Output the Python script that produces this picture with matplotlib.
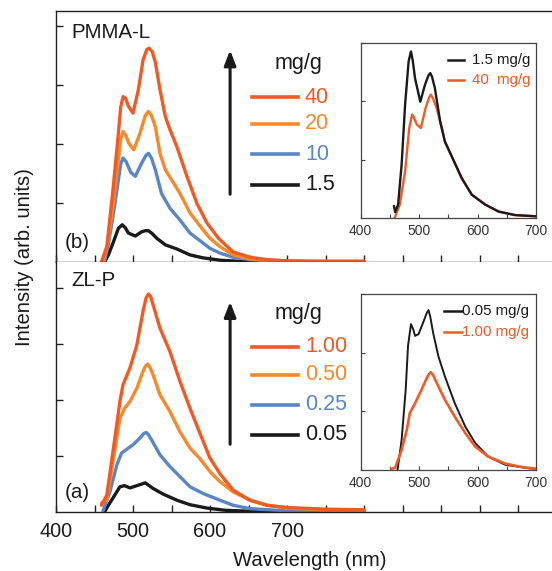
import numpy as np
from matplotlib import pyplot as plt
from matplotlib.lines import Line2D

plt.rcParams['font.family'] = ['Liberation Sans', 'DejaVu Sans']

# 颜色
c_red = '#F05A24'; c_org = '#F7892C'; c_blu = '#5B86C6'; c_blk = '#1A1A1A'

# (b) PMMA-L 主图数据
b40_wl = [459, 466, 474, 481, 484, 487, 490, 494, 500, 507, 513, 518, 521, 525, 529, 535, 542, 548, 557, 570, 583, 596, 611, 630, 652, 674, 700, 750, 800]
b40 = [0, 0.26, 1.22, 2.18, 2.62, 2.80, 2.78, 2.64, 2.52, 2.92, 3.42, 3.60, 3.62, 3.56, 3.38, 2.92, 2.46, 2.24, 1.95, 1.45, 0.99, 0.66, 0.40, 0.17, 0.08, 0.04, 0.02, 0.01, 0.01]
b20_wl = [461, 467, 474, 481, 484, 487, 490, 495, 501, 509, 516, 520, 524, 529, 535, 542, 553, 561, 574, 587, 600, 613, 630, 652, 680, 720, 800]
b20 = [0, 0.30, 0.94, 1.73, 2.08, 2.21, 2.16, 2.00, 1.90, 2.18, 2.48, 2.55, 2.48, 2.29, 1.84, 1.56, 1.33, 1.16, 0.83, 0.61, 0.40, 0.26, 0.12, 0.05, 0.02, 0.01, 0.01]
b10_wl = [463, 468, 474, 481, 484, 487, 491, 497, 503, 511, 517, 520, 524, 529, 537, 548, 561, 574, 587, 600, 613, 630, 652, 680, 720, 800]
b10 = [0.02, 0.30, 0.77, 1.39, 1.66, 1.76, 1.70, 1.52, 1.45, 1.67, 1.81, 1.84, 1.76, 1.56, 1.16, 0.91, 0.71, 0.49, 0.36, 0.23, 0.15, 0.08, 0.04, 0.02, 0.01, 0.01]
b15_wl = [463, 468, 474, 481, 486, 490, 494, 503, 511, 516, 520, 525, 531, 542, 557, 574, 591, 613, 640, 680, 800]
b15 = [0, 0.12, 0.32, 0.57, 0.63, 0.58, 0.49, 0.44, 0.51, 0.53, 0.53, 0.48, 0.40, 0.29, 0.22, 0.12, 0.07, 0.03, 0.01, 0.0, 0.0]

# (a) ZL-P 主图数据
a100_wl = [459, 466, 474, 483, 487, 496, 505, 513, 517, 520, 523, 526, 535, 548, 561, 574, 587, 600, 613, 630, 652, 674, 700, 750, 800]
a100 = [0.12, 0.30, 1.08, 1.97, 2.27, 2.57, 2.98, 3.58, 3.82, 3.89, 3.84, 3.70, 3.28, 2.86, 2.33, 1.85, 1.40, 0.96, 0.68, 0.39, 0.21, 0.12, 0.08, 0.05, 0.04]
a050_wl = [459, 466, 474, 483, 489, 496, 505, 513, 516, 519, 522, 526, 535, 548, 561, 574, 587, 600, 613, 630, 652, 674, 700, 750, 800]
a050 = [0.16, 0.22, 0.90, 1.67, 1.85, 1.97, 2.21, 2.51, 2.60, 2.64, 2.58, 2.45, 2.09, 1.79, 1.43, 1.14, 0.95, 0.72, 0.54, 0.36, 0.21, 0.12, 0.07, 0.04, 0.03]
a025_wl = [461, 470, 479, 485, 494, 500, 509, 514, 517, 520, 524, 535, 548, 561, 574, 591, 613, 630, 652, 700, 800]
a025 = [0.02, 0.36, 0.84, 1.05, 1.14, 1.20, 1.32, 1.40, 1.42, 1.38, 1.29, 1.02, 0.81, 0.63, 0.45, 0.33, 0.21, 0.12, 0.06, 0.02, 0.01]
a005_wl = [463, 468, 474, 483, 489, 496, 505, 516, 526, 539, 557, 574, 596, 620, 660, 800]
a005 = [0, 0.12, 0.25, 0.45, 0.47, 0.43, 0.47, 0.52, 0.42, 0.32, 0.21, 0.13, 0.07, 0.03, 0.01, 0.0]

# 插图数据(归一化)
ib15_wl = [457, 459, 464, 470, 476, 482, 486, 489, 493, 502, 510, 516, 519, 522, 527, 536, 544, 556, 573, 590, 613, 636, 664, 698]
ib15 = [0.20, 0.10, 0.23, 0.91, 1.94, 2.68, 2.85, 2.70, 2.39, 1.99, 2.28, 2.44, 2.48, 2.42, 2.22, 1.65, 1.31, 1.05, 0.68, 0.40, 0.23, 0.11, 0.05, 0.03]
ib40_wl = [458, 467, 476, 483, 488, 491, 496, 503, 511, 517, 520, 524, 530, 539, 544, 556, 573, 590, 613, 636, 664, 698]
ib40 = [0, 0.23, 0.80, 1.54, 1.77, 1.72, 1.60, 1.54, 1.88, 2.06, 2.11, 2.04, 1.88, 1.54, 1.31, 1.05, 0.68, 0.40, 0.23, 0.11, 0.05, 0.03]
ia005_wl = [463, 470, 477, 481, 486, 490, 493, 499, 507, 513, 516, 519, 524, 533, 544, 561, 579, 596, 618, 647, 687, 700]
ia005 = [0, 0.51, 1.37, 2.12, 2.49, 2.40, 2.29, 2.32, 2.52, 2.68, 2.73, 2.62, 2.34, 1.94, 1.60, 1.14, 0.74, 0.46, 0.23, 0.09, 0.03, 0.02]
ia100_wl = [453, 459, 470, 479, 484, 493, 504, 513, 517, 520, 524, 530, 544, 561, 579, 596, 618, 647, 676, 700]
ia100 = [0.02, 0.04, 0.34, 0.69, 0.97, 1.14, 1.37, 1.57, 1.64, 1.67, 1.62, 1.49, 1.20, 0.91, 0.63, 0.40, 0.23, 0.11, 0.05, 0.02]

b_labels = ['40', '20', '10', '1.5']
a_labels = ['1.00', '0.50', '0.25', '0.05']
xtick_labels = ['400', '500', '600', '700']

W = 552; H = 571
fig = plt.figure(figsize=(W/100, H/100), dpi=100)

def fx(px): return px/W
def fy(py): return 1 - py/H

ax_b = fig.add_axes([fx(56), fy(262), fx(552)-fx(56), fy(11)-fy(262)])
ax_a = fig.add_axes([fx(56), fy(512), fx(552)-fx(56), fy(262)-fy(512)])

def main_style(ax, ytop, show_labels):
    ax.set_xlim(400, 1044)
    ax.set_ylim(0, ytop)
    ax.spines['right'].set_visible(False)
    for s in ['left', 'top', 'bottom']:
        ax.spines[s].set_linewidth(1.0)
        ax.spines[s].set_color('#222222')
    ax.set_xticks(np.arange(400, 1050, 100))
    ax.set_xticks(np.arange(450, 1050, 100), minor=True)
    ax.set_yticks([1, 2, 3, 4])
    ax.set_yticklabels([])
    if show_labels:
        ax.set_xticklabels(xtick_labels + ['']*(len(ax.get_xticks())-4))
    else:
        ax.set_xticklabels([])
    ax.tick_params(which='both', direction='in', length=5, width=1, color='#222222',
                   labelsize=14.3, pad=7, top=False, right=False, labelcolor='#1A1A1A')

main_style(ax_b, 4.25, False)
main_style(ax_a, 4.46, True)
ax_a.spines['top'].set_visible(False)

lw = 2.4
kw = dict(lw=lw, solid_joinstyle='round', solid_capstyle='round')
ax_b.plot(b15_wl, b15, color=c_blk, **kw)
ax_b.plot(b10_wl, b10, color=c_blu, **kw)
ax_b.plot(b20_wl, b20, color=c_org, **kw)
ax_b.plot(b40_wl, b40, color=c_red, **kw)
ax_a.plot(a005_wl, a005, color=c_blk, **kw)
ax_a.plot(a025_wl, a025, color=c_blu, **kw)
ax_a.plot(a050_wl, a050, color=c_org, **kw)
ax_a.plot(a100_wl, a100, color=c_red, **kw)

# 图例、箭头
cols = [c_red, c_org, c_blu, c_blk]
def main_legend(ax, labels, ys, ymg, y0, y1):
    for lab, c, yy in zip(labels, cols, ys):
        ax.add_line(Line2D([0.395, 0.488], [yy, yy], transform=ax.transAxes, color=c, lw=2.6))
        ax.text(0.502, yy, lab, transform=ax.transAxes, color=c, fontsize=15.5, va='center', ha='left')
    ax.text(0.44, ymg, 'mg/g', transform=ax.transAxes, fontsize=15.5, va='center', ha='left', color='#1A1A1A')
    ax.annotate('', xy=(0.351, y1), xytext=(0.351, y0), xycoords='axes fraction',
                arrowprops=dict(arrowstyle='-|>,head_length=0.9,head_width=0.35', lw=2.2, color='#1A1A1A'))

main_legend(ax_b, b_labels, [0.657, 0.550, 0.430, 0.307], 0.79, 0.259, 0.855)
main_legend(ax_a, a_labels, [0.660, 0.548, 0.428, 0.308], 0.795, 0.26, 0.852)

ax_b.text(0.032, 0.916, 'PMMA-L', transform=ax_b.transAxes, fontsize=14.8, va='center', color='#1A1A1A')
ax_a.text(0.032, 0.928, 'ZL-P', transform=ax_a.transAxes, fontsize=14.8, va='center', color='#1A1A1A')
ax_b.text(0.018, 0.076, '(b)', transform=ax_b.transAxes, fontsize=14.8, va='center', color='#1A1A1A')
ax_a.text(0.018, 0.08, '(a)', transform=ax_a.transAxes, fontsize=14.8, va='center', color='#1A1A1A')

fig.text(fx(24.5), fy(257), 'Intensity (arb. units)', rotation=90, fontsize=14.6, ha='center', va='center', color='#1A1A1A')
fig.text(fx(310), fy(560), 'Wavelength (nm)', fontsize=14.6, ha='center', va='center', color='#1A1A1A')

# 插图
ins_b = fig.add_axes([fx(360.7), fy(218), fx(536)-fx(360.7), fy(42.7)-fy(218)])
ins_a = fig.add_axes([fx(360.7), fy(470), fx(536)-fx(360.7), fy(294.3)-fy(470)])
for ins in [ins_b, ins_a]:
    ins.set_xlim(400, 700)
    ins.set_ylim(0, 3)
    ins.set_xticks([400, 500, 600, 700])
    ins.set_xticks([450, 550, 650], minor=True)
    ins.set_yticks([1, 2, 3])
    ins.set_yticklabels([])
    for s in ins.spines.values():
        s.set_linewidth(0.9)
        s.set_color('#444444')
    ins.tick_params(which='both', direction='in', length=3, width=0.8, color='#444444',
                    labelsize=10, pad=4.5, labelcolor='#333333')

ins_b.plot(ib40_wl, ib40, color=c_red, lw=1.7, solid_joinstyle='round')
ins_b.plot(ib15_wl, ib15, color=c_blk, lw=1.7, solid_joinstyle='round')
ins_a.plot(ia005_wl, ia005, color=c_blk, lw=1.4, solid_joinstyle='round')
ins_a.plot(ia100_wl, ia100, color=c_red, lw=1.9, solid_joinstyle='round')

def ins_legend(ax, labels, colors, x0, x1, xt, ys):
    for lab, c, yy in zip(labels, colors, ys):
        ax.add_line(Line2D([x0, x1], [yy, yy], transform=ax.transAxes, color=c, lw=1.8))
        ax.text(xt, yy, lab, transform=ax.transAxes, color=c, fontsize=10.8, va='center', ha='left')

ins_legend(ins_b, ['1.5 mg/g', '40  mg/g'], [c_blk, c_red], 0.496, 0.589, 0.635, [0.903, 0.789])
ins_legend(ins_a, ['0.05 mg/g', '1.00 mg/g'], [c_blk, c_red], 0.475, 0.578, 0.578, [0.903, 0.783])

fig.savefig('out.png', dpi=100)
